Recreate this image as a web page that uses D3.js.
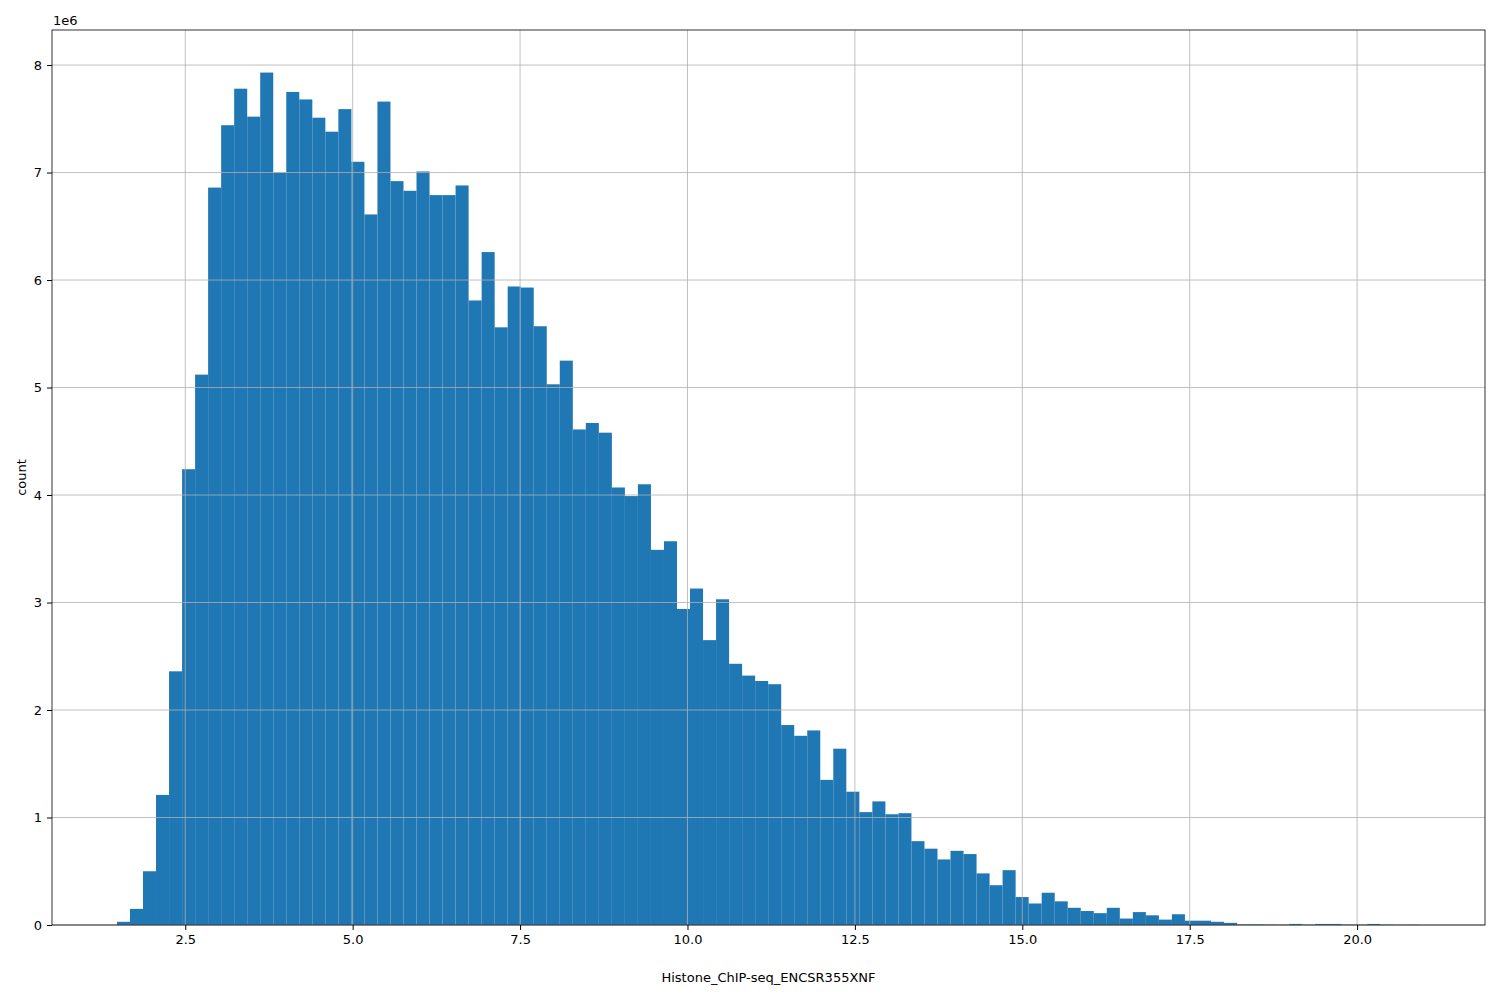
<!DOCTYPE html>
<html><head><meta charset="utf-8">
<script src="https://cdn.jsdelivr.net/npm/d3@7"></script>
<style>body{margin:0;background:#fff}text{font-family:"DejaVu Sans",sans-serif}</style>
</head><body><div id="chart"></div>
<script>
const binStart = 1.48;
const binWidth = 0.1945;
// counts in millions, one per bin
const counts = [0.03,0.15,0.50,1.21,2.36,4.24,5.12,6.86,7.44,7.78,
  7.52,7.93,7.00,7.75,7.68,7.51,7.38,7.59,7.10,6.61,
  7.66,6.92,6.83,7.01,6.79,6.79,6.88,5.81,6.26,5.56,
  5.94,5.93,5.57,5.03,5.25,4.61,4.67,4.58,4.07,3.99,
  4.10,3.49,3.57,2.94,3.13,2.65,3.03,2.43,2.32,2.27,
  2.24,1.86,1.76,1.81,1.35,1.64,1.24,1.05,1.15,1.03,
  1.04,0.78,0.71,0.61,0.69,0.66,0.48,0.37,0.51,0.26,
  0.20,0.30,0.22,0.16,0.13,0.11,0.16,0.06,0.12,0.09,
  0.05,0.10,0.04,0.04,0.03,0.02,0.005,0.005,0.003,0.002,
  0.01,0.002,0.01,0.01,0.003,0.002,0.01,0.003,0.001,0.002];
const xTicks = [2.5,5.0,7.5,10.0,12.5,15.0,17.5,20.0];
const yTicks = [0,1,2,3,4,5,6,7,8];

const W = 1500, H = 1000;
const m = {left: 52, right: 15, top: 30, bottom: 75};
const svg = d3.select("#chart").append("svg").attr("width", W).attr("height", H);

const x = d3.scaleLinear().domain([0.51, 21.91]).range([m.left, W - m.right]);
const y = d3.scaleLinear().domain([0, 8.326]).range([H - m.bottom, m.top]);

svg.append("g").selectAll("rect").data(counts).enter().append("rect")
  .attr("x", (d, i) => x(binStart + i * binWidth))
  .attr("width", (d, i) => x(binStart + (i + 1) * binWidth) - x(binStart + i * binWidth))
  .attr("y", d => y(d))
  .attr("height", d => y(0) - y(d))
  .attr("fill", "#1f77b4");

const grid = svg.append("g").attr("stroke", "#b0b0b0").attr("stroke-width", 0.8);
grid.selectAll(".gx").data(xTicks).enter().append("line")
  .attr("x1", d => x(d)).attr("x2", d => x(d)).attr("y1", m.top).attr("y2", H - m.bottom);
grid.selectAll(".gy").data(yTicks).enter().append("line")
  .attr("y1", d => y(d)).attr("y2", d => y(d)).attr("x1", m.left).attr("x2", W - m.right);

const xAxis = svg.append("g").attr("transform", `translate(0,${H - m.bottom})`)
  .call(d3.axisBottom(x).tickValues(xTicks).tickFormat(d3.format(".1f")).tickSizeOuter(0).tickSize(5).tickPadding(5));
const yAxis = svg.append("g").attr("transform", `translate(${m.left},0)`)
  .call(d3.axisLeft(y).tickValues(yTicks).tickFormat(d3.format("d")).tickSizeOuter(0).tickSize(5).tickPadding(5));
[xAxis, yAxis].forEach(a => {
  a.selectAll("text").attr("font-size", 13).attr("fill", "#000").style("font-family", "DejaVu Sans");
  a.select(".domain").remove();
});

svg.append("rect").attr("x", m.left).attr("y", m.top)
  .attr("width", W - m.left - m.right).attr("height", H - m.top - m.bottom)
  .attr("fill", "none").attr("stroke", "#000").attr("stroke-width", 0.8);

svg.append("text").attr("x", m.left + 1).attr("y", 25).attr("font-size", 13).text("1e6");
svg.append("text").attr("x", (m.left + W - m.right) / 2).attr("y", 982)
  .attr("text-anchor", "middle").attr("font-size", 13).text("Histone_ChIP-seq_ENCSR355XNF");
svg.append("text").attr("transform", `translate(26,${(m.top + H - m.bottom) / 2}) rotate(-90)`)
  .attr("text-anchor", "middle").attr("font-size", 13).text("count");
</script></body></html>
